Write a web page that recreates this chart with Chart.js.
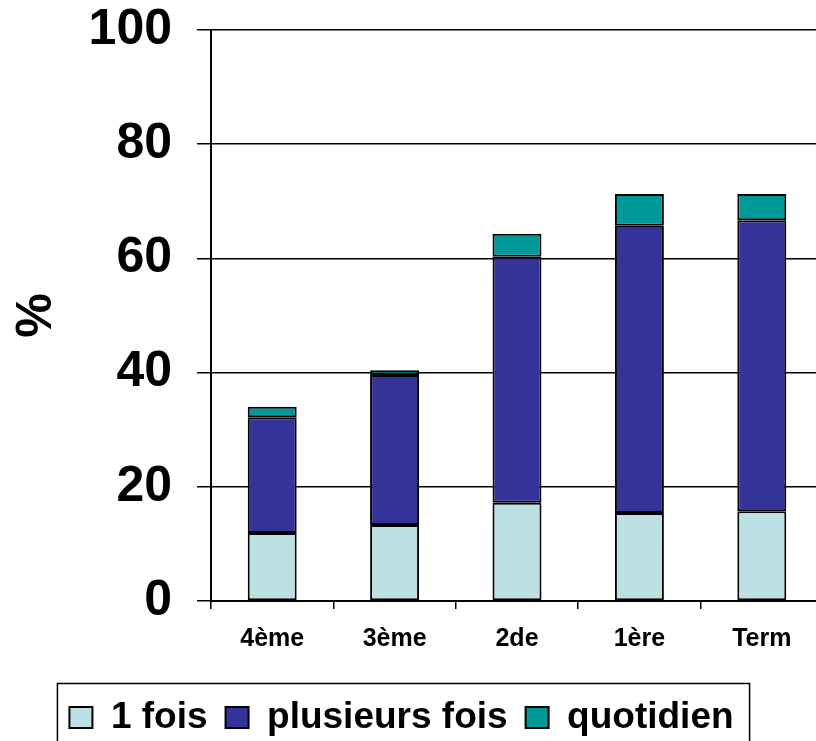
<!DOCTYPE html>
<html>
<head>
<meta charset="utf-8">
<script src="https://cdn.jsdelivr.net/npm/chart.js@4/dist/chart.umd.min.js"></script>
<style>
    html, body { margin: 0; padding: 0; background: #fff; overflow: hidden; }
    #wrap { width: 816px; height: 741px; overflow: hidden; }
</style>
</head>
<body>
<div id="wrap"><canvas id="chart" width="830" height="746"></canvas></div>
<script>
// categories and series (% of pupils)
const categories = ["4ème", "3ème", "2de", "1ère", "Term"];
const uneFois = [11.9, 13.3, 17.2, 15.4, 15.7];
const plusieursFois = [20.3, 26.3, 43.1, 50.3, 51.0];
const quotidien = [1.8, 0.8, 4.0, 5.6, 4.6];
const yMin = 0, yMax = 100, yStep = 20;

const font = "'Liberation Sans', Arial, sans-serif";

// nudge the legend a bit to the left, then frame it
const legendBorder = {
    id: "legendBorder",
    afterLayout(chart) {
        const lg = chart.legend;
        if (!lg) return;
        lg.left -= 10;
        lg.right -= 10;
    },
    afterDraw(chart) {
        const lg = chart.legend;
        if (!lg || !lg.legendHitBoxes.length) return;
        const boxes = lg.legendHitBoxes;
        const last = boxes[boxes.length - 1];
        const left = boxes[0].left - 12;
        const right = last.left + last.width + 16;
        const top = boxes[0].top + boxes[0].height / 2 - 34;
        const ctx = chart.ctx;
        ctx.save();
        ctx.strokeStyle = "#000";
        ctx.lineWidth = 1.5;
        ctx.strokeRect(left, top, right - left, 200);
        ctx.restore();
    }
};

const seg = { borderColor: "#000", borderWidth: 2, borderSkipped: false, barPercentage: 0.4, categoryPercentage: 1 };

new Chart(document.getElementById("chart").getContext("2d"), {
    type: "bar",
    data: {
        labels: categories,
        datasets: [
            { label: "1 fois", data: uneFois, backgroundColor: "#BCE1E4", ...seg },
            { label: "plusieurs fois", data: plusieursFois, backgroundColor: "#333399", ...seg },
            { label: "quotidien", data: quotidien, backgroundColor: "#009999", ...seg },
        ],
    },
    options: {
        responsive: false,
        devicePixelRatio: 1,
        animation: false,
        layout: { padding: { top: 30, right: 7, left: 0, bottom: 0 } },
        plugins: {
            tooltip: { enabled: false },
            legend: {
                position: "bottom",
                labels: {
                    color: "#000",
                    font: { family: font, size: 37, weight: "bold" },
                    boxWidth: 23,
                    boxHeight: 21,
                    padding: 18,
                },
            },
        },
        scales: {
            x: {
                stacked: true,
                afterFit: s => { s.height = 80; },
                grid: { drawOnChartArea: false, drawTicks: true, tickLength: 8, color: "#000", lineWidth: 1.5, offset: true },
                border: { color: "#000", width: 2 },
                ticks: { color: "#000", padding: 15, font: { family: font, size: 25, weight: "bold" } },
            },
            y: {
                stacked: true,
                min: yMin,
                max: yMax,
                afterFit: s => { s.width = 211; s.paddingTop = 0; s.paddingBottom = 0; },
                grid: { color: "#000", lineWidth: 1.5, tickLength: 14 },
                border: { color: "#000", width: 2 },
                ticks: { stepSize: yStep, color: "#000", padding: 25, font: { family: font, size: 50, weight: "bold" } },
                title: { display: true, text: "%", color: "#000", padding: { top: 7, bottom: 4 }, font: { family: font, size: 50, weight: "bold" } },
            },
        },
    },
    plugins: [legendBorder],
});
</script>
</body>
</html>
